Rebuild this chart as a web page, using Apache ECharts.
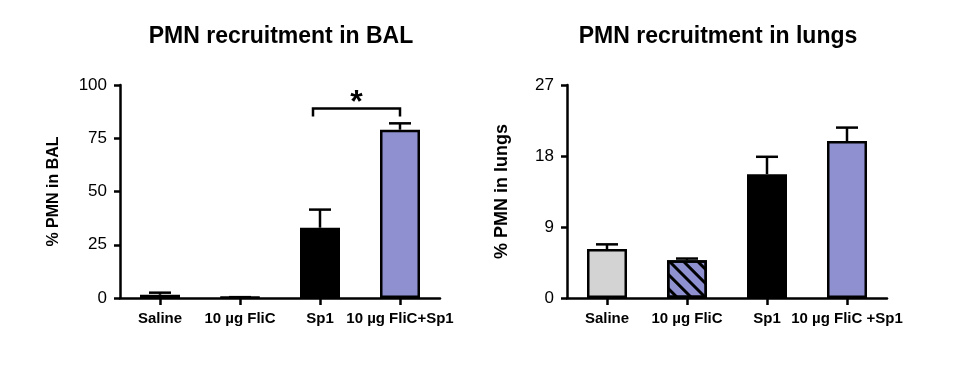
<!DOCTYPE html>
<html>
<head>
<meta charset="utf-8">
<script src="https://cdn.jsdelivr.net/npm/echarts@6/dist/echarts.min.js"></script>
<style>
  html, body { margin: 0; padding: 0; background: #fff; }
  #chart { width: 960px; height: 365px; }
</style>
</head>
<body>
<div id="chart"></div>
<script>
// values
const balCategories = ['Saline', '10 \u00b5g FliC', 'Sp1', '10 \u00b5g FliC+Sp1'];
const lungCategories = ['Saline', '10 \u00b5g FliC', 'Sp1', '10 \u00b5g FliC +Sp1'];
const balMeans = [1.5, 0.3, 33, 79];
const balErrors = [1, 0.1, 8.5, 3];
const lungMeans = [6.2, 4.8, 15.7, 19.9];
const lungErrors = [0.6, 0.2, 2.2, 1.7];
const balMax = 100, balStep = 25;
const lungMax = 27, lungStep = 9;
// significance bracket: [from category, to category, bracket top, leg bottom]
const balSignif = [[2, 3, 89, 85.2]];

const FONT = 'Arial, "Liberation Sans", Helvetica, sans-serif';
const PURPLE = '#8E90CF';
const fills = ['#D3D3D3', PURPLE, '#000000', PURPLE];
const hatch = {
  symbol: 'rect',
  symbolSize: 1,
  dashArrayX: [1, 0],
  dashArrayY: [3, 7],
  rotation: Math.PI / 4,
  color: '#000000'
};

function barData(means) {
  return means.map((v, i) => {
    const style = { color: fills[i] };
    if (i === 1) style.decal = hatch;
    return { value: v, itemStyle: style };
  });
}

function errorSeries(means, errs, idx) {
  return {
    type: 'custom',
    xAxisIndex: idx,
    yAxisIndex: idx,
    z: 3,
    data: means.map((m, i) => [i, m, m + errs[i]]),
    renderItem(params, api) {
      const bottom = api.coord([api.value(0), api.value(1)]);
      const top = api.coord([api.value(0), api.value(2)]);
      const half = 11;
      const style = { stroke: '#000', lineWidth: 2.5 };
      return {
        type: 'group',
        children: [
          { type: 'line', shape: { x1: bottom[0], y1: bottom[1], x2: top[0], y2: top[1] }, style },
          { type: 'line', shape: { x1: top[0] - half, y1: top[1], x2: top[0] + half, y2: top[1] }, style }
        ]
      };
    }
  };
}

function axisPair(idx, cats, max, step, name, nameSize, gap) {
  const x = {
    type: 'category',
    gridIndex: idx,
    data: cats,
    axisLine: { lineStyle: { color: '#000', width: 2.5 } },
    axisTick: { show: true, alignWithLabel: true, interval: 0, length: 7, lineStyle: { color: '#000', width: 2.5 } },
    axisLabel: { interval: 0, color: '#000', fontFamily: FONT, fontWeight: 'bold', fontSize: 15, margin: 13 }
  };
  const y = {
    type: 'value',
    gridIndex: idx,
    min: 0,
    max: max,
    interval: step,
    name: name,
    nameLocation: 'middle',
    nameRotate: 90,
    nameGap: gap,
    nameTextStyle: { color: '#000', fontFamily: FONT, fontWeight: 'bold', fontSize: nameSize },
    axisLine: { show: true, lineStyle: { color: '#000', width: 2.5 } },
    axisTick: { show: true, length: 6, lineStyle: { color: '#000', width: 2.5 } },
    axisLabel: { color: '#000', fontFamily: FONT, fontSize: 17, margin: 13 },
    splitLine: { show: false }
  };
  return [x, y];
}

const [x0, y0] = axisPair(0, balCategories, balMax, balStep, '% PMN in BAL', 16, 58);
const [x1, y1] = axisPair(1, lungCategories, lungMax, lungStep, '% PMN in lungs', 18, 56);

const option = {
  backgroundColor: '#fff',
  animation: false,
  title: [
    { text: 'PMN recruitment in BAL', left: 281, top: 25, padding: 0, textAlign: 'center',
      textStyle: { fontFamily: FONT, fontSize: 23, fontWeight: 'bold', color: '#000' } },
    { text: 'PMN recruitment in lungs', left: 718, top: 25, padding: 0, textAlign: 'center',
      textStyle: { fontFamily: FONT, fontSize: 23, fontWeight: 'bold', color: '#000' } }
  ],
  grid: [
    { left: 120, top: 85, width: 320, height: 213 },
    { left: 567, top: 85, width: 320, height: 213 }
  ],
  xAxis: [x0, x1],
  yAxis: [y0, y1],
  series: [
    {
      type: 'bar', xAxisIndex: 0, yAxisIndex: 0, barWidth: 40, z: 4,
      itemStyle: { borderColor: '#000', borderWidth: 2.5 },
      data: barData(balMeans)
    },
    {
      type: 'bar', xAxisIndex: 1, yAxisIndex: 1, barWidth: 40, z: 4,
      itemStyle: { borderColor: '#000', borderWidth: 2.5 },
      data: barData(lungMeans)
    },
    errorSeries(balMeans, balErrors, 0),
    errorSeries(lungMeans, lungErrors, 1),
    {
      type: 'custom', xAxisIndex: 0, yAxisIndex: 0, z: 5,
      data: balSignif,
      renderItem(params, api) {
        const a = api.coord([api.value(0), api.value(2)]);
        const b = api.coord([api.value(1), api.value(2)]);
        const legY = api.coord([api.value(0), api.value(3)])[1];
        const x1p = a[0] - 7, x2p = b[0];
        return {
          type: 'group',
          children: [
            { type: 'polyline',
              shape: { points: [[x1p, legY], [x1p, a[1]], [x2p, a[1]], [x2p, legY]] },
              style: { stroke: '#000', lineWidth: 2.5, fill: null } },
            { type: 'text',
              style: { text: '*', x: (x1p + x2p) / 2, y: a[1] - 5, align: 'center', verticalAlign: 'middle',
                       font: 'bold 32px ' + FONT, fill: '#000' } }
          ]
        };
      }
    }
  ]
};

const chart = echarts.init(document.getElementById('chart'));
chart.setOption(option);
</script>
</body>
</html>
